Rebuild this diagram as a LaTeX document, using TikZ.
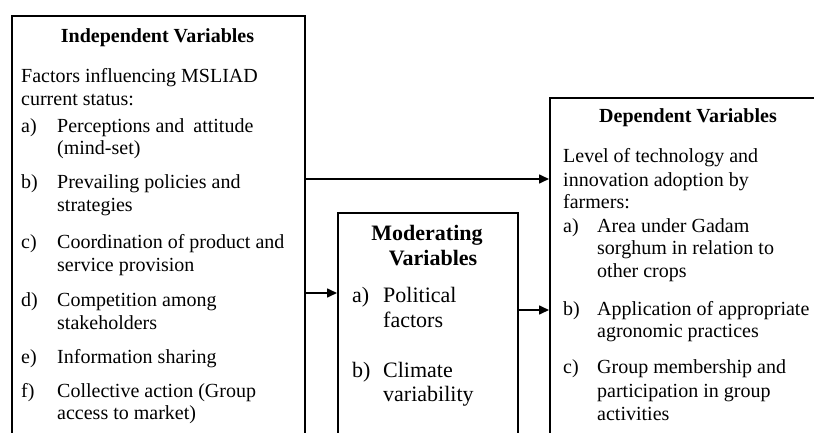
\documentclass[tikz,border=0pt]{standalone}
\usepackage{fontspec}
\setmainfont{Liberation Serif}
\usetikzlibrary{arrows.meta}
\begin{document}
\begin{tikzpicture}[x=1pt,y=-1pt,
  box/.style={draw, line width=1.8pt, anchor=north west, inner sep=0pt},
  txt/.style={anchor=base west, inner sep=0pt, font=\fontsize{20}{23}\selectfont},
  hd/.style={anchor=base, inner sep=0pt, font=\fontsize{20}{23}\selectfont\bfseries},
  mtxt/.style={anchor=base west, inner sep=0pt, font=\fontsize{22}{25}\selectfont},
  mhd/.style={anchor=base, inner sep=0pt, font=\fontsize{22}{25}\selectfont\bfseries},
  arr/.style={line width=1.6pt, -{Triangle[length=10pt,width=9pt]}}]
\useasboundingbox (0,0) rectangle (814,433);
\clip (0,0) rectangle (814,433);
% boxes (bottom edges lie below the visible area)
\node[box, minimum width=293pt, minimum height=460pt] (L) at (11,15) {};
\node[box, minimum width=180pt, minimum height=300pt] (M) at (337,212) {};
\node[box, minimum width=300pt, minimum height=400pt] (R) at (549,97) {};
% left box text
\node[hd] (lh) at (157.5,43) {Independent Variables};
\node[txt] (l1) at (21,83) {Factors influencing MSLIAD};
\node[txt] (l2) at (21,106) {current status:};
\node[txt] (la) at (21,133) {a)};
\node[txt] (la1) at (57,133) {Perceptions and\hspace{4pt} attitude};
\node[txt] (la2) at (57,155) {(mind-set)};
\node[txt] (lb) at (21,189) {b)};
\node[txt] (lb1) at (57,189) {Prevailing policies and};
\node[txt] (lb2) at (57,211) {strategies};
\node[txt] (lc) at (21,248) {c)};
\node[txt] (lc1) at (57,248) {Coordination of product and};
\node[txt] (lc2) at (57,271) {service provision};
\node[txt] (ld) at (21,306) {d)};
\node[txt] (ld1) at (57,306) {Competition among};
\node[txt] (ld2) at (57,329) {stakeholders};
\node[txt] (le) at (21,363) {e)};
\node[txt] (le1) at (57,363) {Information sharing};
\node[txt] (lf) at (21,397) {f)};
\node[txt] (lf1) at (57,397) {Collective action (Group};
\node[txt] (lf2) at (57,419) {access to market)};
% middle box text
\node[mhd] (mh1) at (427,240) {Moderating};
\node[mhd] (mh2) at (433,265) {Variables};
\node[mtxt] (ma) at (352,302) {a)};
\node[mtxt] (ma1) at (383,302) {Political};
\node[mtxt] (ma2) at (383,327) {factors};
\node[mtxt] (mb) at (352,377) {b)};
\node[mtxt] (mb1) at (383,377) {Climate};
\node[mtxt] (mb2) at (383,401) {variability};
% right box text
\node[hd] (rh) at (688,123) {Dependent Variables};
\node[txt] (r1) at (563,162) {Level of technology and};
\node[txt] (r2) at (563,186) {innovation adoption by};
\node[txt] (r3) at (563,208) {farmers:};
\node[txt] (ra) at (563,232) {a)};
\node[txt] (ra1) at (597,232) {Area under Gadam};
\node[txt] (ra2) at (597,254) {sorghum in relation to};
\node[txt] (ra3) at (597,277) {other crops};
\node[txt] (rb) at (563,315) {b)};
\node[txt] (rb1) at (597,315) {Application of appropriate};
\node[txt] (rb2) at (597,337) {agronomic practices};
\node[txt] (rc) at (563,373) {c)};
\node[txt] (rc1) at (597,373) {Group membership and};
\node[txt] (rc2) at (597,397) {participation in group};
\node[txt] (rc3) at (597,420) {activities};
% connectors
\coordinate (y1) at (0,179);
\coordinate (y2) at (0,293);
\coordinate (y3) at (0,310);
\draw[arr] (L.east |- y1) -- (R.west |- y1);
\draw[arr] (L.east |- y2) -- (M.west |- y2);
\draw[arr] (M.east |- y3) -- (R.west |- y3);
\end{tikzpicture}
\end{document}
